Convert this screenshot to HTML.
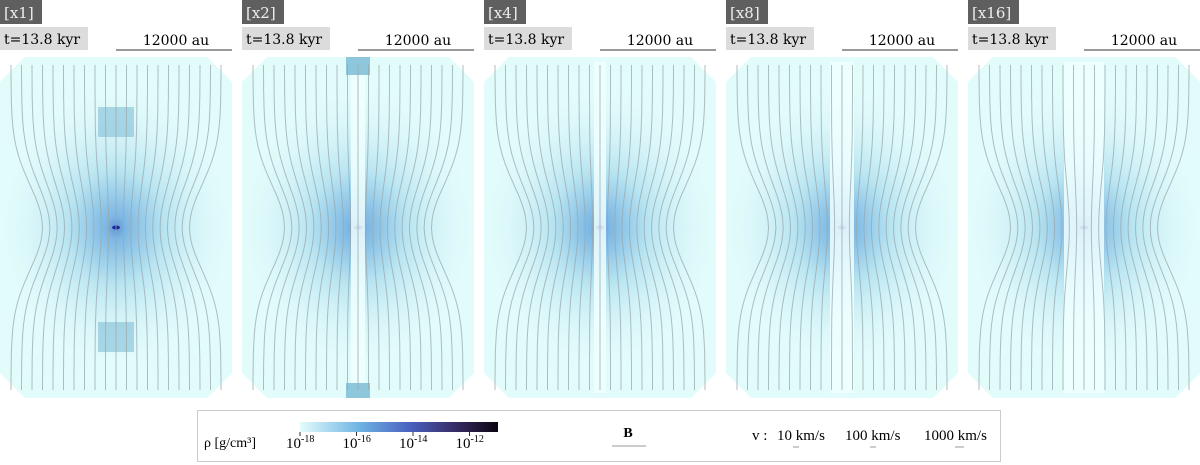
<!DOCTYPE html>
<html><head><meta charset="utf-8"><style>
body{margin:0;background:#fff;width:1200px;height:465px;overflow:hidden;font-family:"DejaVu Serif","Liberation Serif",serif}
svg{position:absolute;left:0;top:0}
</style></head><body>
<svg id="fig" width="1200" height="465" xmlns="http://www.w3.org/2000/svg">
<defs>
<radialGradient id="rg" cx="0.5" cy="0.5" r="0.5">
<stop offset="0" stop-color="#3470d0"/>
<stop offset="0.08" stop-color="#5aa0dc"/>
<stop offset="0.4" stop-color="#a8dcee"/>
<stop offset="1" stop-color="#e2fbfb" stop-opacity="0"/>
</radialGradient>
<linearGradient id="cb" x1="0" x2="1">
<stop offset="0" stop-color="#e4fcfc"/>
<stop offset="0.3" stop-color="#6db4e4"/>
<stop offset="0.55" stop-color="#4b62c0"/>
<stop offset="0.8" stop-color="#35285e"/>
<stop offset="1" stop-color="#0b0510"/>
</linearGradient>
</defs>
</svg>
<script>
const labels=["[x1]","[x2]","[x4]","[x8]","[x16]"];
const panelLeft=[0,242,484,726,968];
const jetWidth=[0,7,6,12,20];
const cbTicks=["-18","-16","-14","-12"];
const vScales=["10 km/s","100 km/s","1000 km/s"];
const NS="http://www.w3.org/2000/svg";
const svg=document.getElementById('fig');
function mk(t,a,p){const e=document.createElementNS(NS,t);for(const k in a)e.setAttribute(k,a[k]);(p||svg).appendChild(e);return e;}
const W=232,T=57,H=341;
labels.forEach((lab,i)=>{
 const x0=panelLeft[i],cx=x0+W/2,cy=T+H/2;
 const g=mk('g',{});
 
 
 const oct=`${x0+25},${T} ${x0+W-25},${T} ${x0+W},${T+25} ${x0+W},${T+H-25} ${x0+W-25},${T+H} ${x0+25},${T+H} ${x0},${T+H-25} ${x0},${T+25}`;
 mk('polygon',{points:oct,fill:'#e2fbfb'},g);
 mk('ellipse',{cx:cx,cy:cy,rx:120,ry:140,fill:'url(#rg)',opacity:0.75},g);
 mk('ellipse',{cx:cx,cy:cy,rx:4,ry:2,fill:'#1a2a9a'},g);
 if(i===0){
  [[T+50,30],[T+265,30]].forEach(([y,h])=>mk('rect',{x:cx-18,y:y,width:36,height:h,fill:'#8ec6dc',opacity:0.7},g));
 } else {
  const jw=jetWidth[i];
  mk('rect',{x:cx-jw,y:T+5,width:2*jw,height:H-10,fill:'#f0ffff',opacity:0.85},g);
  if(i===1){mk('rect',{x:cx-12,y:T,width:24,height:18,fill:'#8ec6dc'},g);mk('rect',{x:cx-12,y:T+H-15,width:24,height:15,fill:'#8ec6dc'},g);}
 }
 for(let k=-10;k<=10;k++){
  const off=k*10.5;let d='';
  for(let s=0;s<=40;s++){const y=T+8+s*(H-16)/40;const dy=(y-cy)/60;const x=cx+off*(1-0.3*Math.exp(-dy*dy));d+=(s?'L':'M')+x.toFixed(1)+','+y.toFixed(1);}
  mk('path',{d:d,stroke:'#98a8ac',fill:'none','stroke-width':1,opacity:0.75},g);
 }
 const hb=mk('rect',{x:x0,y:0,width:lab.length*9+6,height:24,fill:'#5f5f5f'});
 
 
 mk('text',{x:x0+4,y:18,fill:'#eee','font-size':15}).textContent=lab;
 const tb=mk('rect',{x:x0,y:27,width:88,height:23,fill:'#dcdcdc'});
 
 
 mk('text',{x:x0+4,y:44,fill:'#000','font-size':14}).textContent='t=13.8 kyr';
 mk('line',{x1:x0+116,x2:x0+232,y1:50,y2:50,stroke:'#333','stroke-width':1});
 mk('text',{x:x0+176,y:45,'text-anchor':'middle','font-size':14}).textContent='12000 au';
});
const lg=mk('rect',{x:197.5,y:410.5,width:803,height:51,fill:'#fff',stroke:'#ccc'});


mk('text',{x:204,y:447,'font-size':14,'font-family':'Liberation Serif'}).textContent='ρ [g/cm³]';
const cbr=mk('rect',{x:300,y:422,width:198,height:10,fill:'url(#cb)'});


cbTicks.forEach((t,j)=>{
 const px=300+j*56.5;
 mk('line',{x1:px,x2:px,y1:432,y2:436,stroke:'#333'});
 const tx=mk('text',{x:px-14,y:448,'font-size':15,'font-family':'Liberation Serif'});tx.textContent='10';
 mk('tspan',{dy:-6,'font-size':10},tx).textContent=t;
});
mk('text',{x:628,y:437,'font-size':14,'font-weight':'bold','text-anchor':'middle','font-family':'Liberation Serif'}).textContent='B';
mk('line',{x1:612,x2:646,y1:446,y2:446,stroke:'#999'});
mk('text',{x:752,y:440,'font-size':15,'font-family':'Liberation Serif'}).textContent='v :';
vScales.forEach((v,j)=>{const px=[777,845,924][j];
 mk('text',{x:px,y:440,'font-size':15,'font-family':'Liberation Serif'}).textContent=v;
 mk('line',{x1:[793,870,955][j],x2:[799,876,964][j],y1:447,y2:447,stroke:'#999'});
});
</script>
</body></html>
